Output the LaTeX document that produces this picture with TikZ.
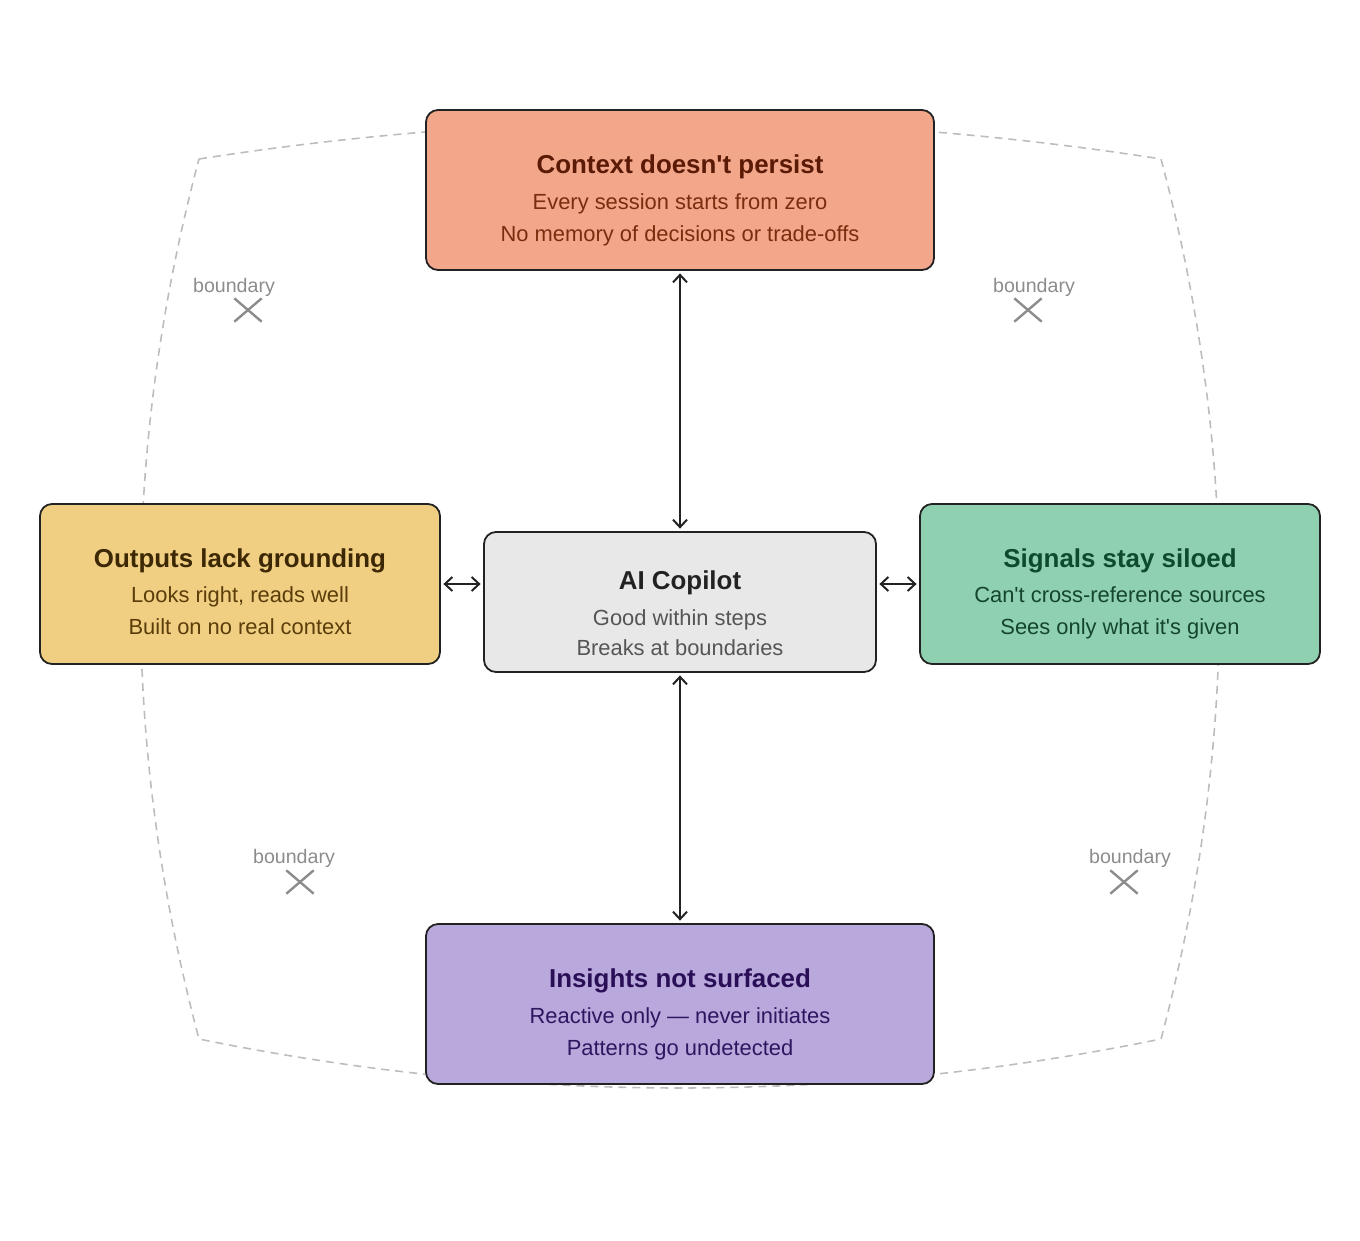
\documentclass[tikz,border=0pt]{standalone}
\usepackage{fontspec}
\setmainfont{Liberation Sans}
\usetikzlibrary{arrows.meta,shapes.misc}
\definecolor{edge}{HTML}{222222}
\definecolor{dashc}{HTML}{BDBDBD}
\definecolor{markc}{HTML}{8C8C8C}
\definecolor{topfill}{HTML}{F2A68A}
\definecolor{toptitle}{HTML}{5A1A05}
\definecolor{toptext}{HTML}{7B2D0E}
\definecolor{leftfill}{HTML}{F0CF82}
\definecolor{lefttitle}{HTML}{3D2805}
\definecolor{lefttext}{HTML}{5A3D0A}
\definecolor{rightfill}{HTML}{8FD0B0}
\definecolor{righttitle}{HTML}{0E4A2E}
\definecolor{righttext}{HTML}{14452D}
\definecolor{botfill}{HTML}{B8A8DC}
\definecolor{bottitle}{HTML}{2A0F57}
\definecolor{bottext}{HTML}{2E1660}
\definecolor{ctrfill}{HTML}{E8E8E8}
\definecolor{ctrtitle}{HTML}{222222}
\definecolor{ctrtext}{HTML}{555555}
\begin{document}
\begin{tikzpicture}[x=1pt,y=-1pt,
  box/.style={draw=edge, line width=1.8pt, rounded corners=12pt, rectangle, inner sep=0pt},
  ttl/.style={anchor=base, inner sep=0pt, font=\fontsize{25.9pt}{30pt}\selectfont\bfseries},
  txt/.style={anchor=base, inner sep=0pt, font=\fontsize{21.9pt}{26pt}\selectfont},
  blabel/.style={anchor=base, inner sep=0pt, text=markc, font=\fontsize{19.6pt}{23pt}\selectfont},
  xmark/.style={cross out, draw=markc, line width=2.4pt, minimum width=25pt, minimum height=21pt, inner sep=0pt},
  link/.style={draw=edge, line width=2pt, {Straight Barb[length=7.5pt,width=14pt,line width=2pt]}-{Straight Barb[length=7.5pt,width=14pt,line width=2pt]}, shorten <=2.5pt, shorten >=2.5pt}
]
\useasboundingbox (0,0) rectangle (1360,1240);

% dashed boundary
\draw[dashc, line width=1.6pt, dash pattern=on 8pt off 6pt]
  (199,159) .. controls (519.7,109) and (840.3,109) .. (1161,159)
  .. controls (1239,452.3) and (1239,745.7) .. (1161,1039)
  .. controls (840.3,1104.3) and (519.7,1104.3) .. (199,1039)
  .. controls (121,745.7) and (121,452.3) .. cycle;

% boundary markers
\node[blabel] (bl1) at (234,292) {boundary};
\node[xmark] (bx1) at (248,310) {};
\node[blabel] (bl2) at (1034,292) {boundary};
\node[xmark] (bx2) at (1028,310) {};
\node[blabel] (bl3) at (294,863) {boundary};
\node[xmark] (bx3) at (300,882) {};
\node[blabel] (bl4) at (1130,863) {boundary};
\node[xmark] (bx4) at (1124,882) {};

% boxes
\node[box, fill=topfill, minimum width=508pt, minimum height=160pt] (top) at (680,190) {};
\node[box, fill=leftfill, minimum width=400pt, minimum height=160pt] (lft) at (240,584) {};
\node[box, fill=ctrfill, minimum width=392pt, minimum height=140pt] (ctr) at (680,602) {};
\node[box, fill=rightfill, minimum width=400pt, minimum height=160pt] (rgt) at (1120,584) {};
\node[box, fill=botfill, minimum width=508pt, minimum height=160pt] (bot) at (680,1004) {};

% texts
\node[ttl, text=toptitle] (topT) at (680,173) {Context doesn\textquotesingle t persist};
\node[txt, text=toptext] (topA) at (680,209) {Every session starts from zero};
\node[txt, text=toptext] (topB) at (680,241) {No memory of decisions or trade-offs};

\node[ttl, text=lefttitle] (lftT) at (240,567) {Outputs lack grounding};
\node[txt, text=lefttext] (lftA) at (240,602) {Looks right, reads well};
\node[txt, text=lefttext] (lftB) at (240,634) {Built on no real context};

\node[ttl, text=ctrtitle] (ctrT) at (680,589) {AI Copilot};
\node[txt, text=ctrtext] (ctrA) at (680,625) {Good within steps};
\node[txt, text=ctrtext] (ctrB) at (680,655) {Breaks at boundaries};

\node[ttl, text=righttitle] (rgtT) at (1120,567) {Signals stay siloed};
\node[txt, text=righttext] (rgtA) at (1120,602) {Can\textquotesingle t cross-reference sources};
\node[txt, text=righttext] (rgtB) at (1120,634) {Sees only what it\textquotesingle s given};

\node[ttl, text=bottitle] (botT) at (680,987) {Insights not surfaced};
\node[txt, text=bottext] (botA) at (680,1023) {Reactive only — never initiates};
\node[txt, text=bottext] (botB) at (680,1055) {Patterns go undetected};

% connectors
\draw[link] (top.south) -- (ctr.north);
\draw[link] (ctr.south) -- (bot.north);
\draw[link] (lft.east) -- (lft.east -| ctr.west);
\draw[link] (rgt.west) -- (rgt.west -| ctr.east);
\end{tikzpicture}
\end{document}
